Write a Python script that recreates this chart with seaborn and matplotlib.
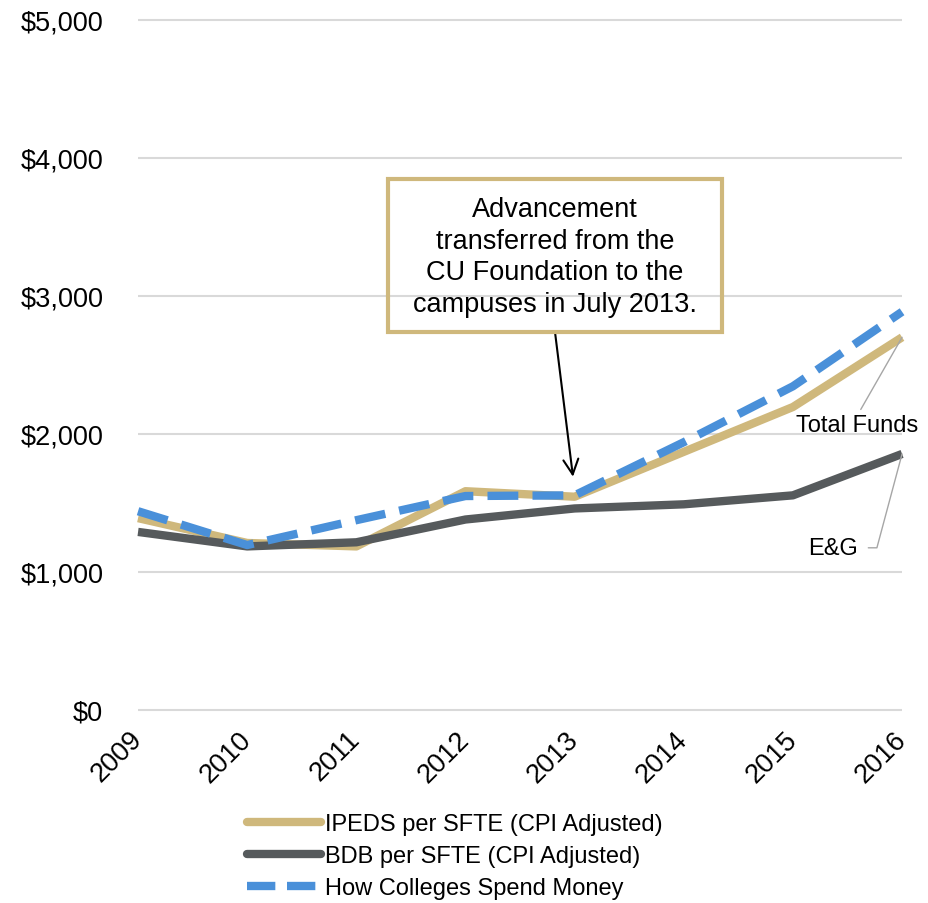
import numpy as np
import pandas as pd
import matplotlib
matplotlib.use("Agg")
import matplotlib.pyplot as plt
from matplotlib.patches import Rectangle
import seaborn as sns

years = [2009, 2010, 2011, 2012, 2013, 2014, 2015, 2016]
ipeds = [1390, 1210, 1185, 1585, 1545, 1870, 2195, 2700]
bdb = [1290, 1185, 1215, 1380, 1460, 1490, 1555, 1855]
hcsm = [1440, 1195, 1375, 1550, 1555, 1940, 2345, 2885]

series_names = ["IPEDS per SFTE (CPI Adjusted)", "BDB per SFTE (CPI Adjusted)",
                "How Colleges Spend Money"]
colors = ["#CFB87C", "#565A5C", "#4A90D9"]

df = pd.DataFrame({
    "year": years * 3,
    "value": ipeds + bdb + hcsm,
    "series": np.repeat(series_names, len(years)),
})

sns.set_theme(style="white")
plt.rcParams["font.family"] = ["Liberation Sans", "DejaVu Sans"]
plt.rcParams["text.color"] = "black"
plt.rcParams["xtick.color"] = "black"
plt.rcParams["ytick.color"] = "black"

fig = plt.figure(figsize=(9.29, 9.04), dpi=100)
ax = fig.add_axes([0.1486, 0.2135, 0.8224, 0.7635])

for yv in range(0, 5001, 1000):
    ax.axhline(yv, color="#D9D9D9", lw=1.5, zorder=0)

sns.lineplot(data=df, x="year", y="value", hue="series", style="series",
             palette=dict(zip(series_names, colors)),
             dashes={series_names[0]: "", series_names[1]: "",
                     series_names[2]: (3.7, 1.7)},
             linewidth=6, ax=ax, legend=False, sort=False)
for ln in ax.get_lines():
    ln.set_solid_capstyle("butt")
    ln.set_dash_capstyle("butt")
    ln.set_clip_on(False)

ax.set_xlim(2009, 2016)
ax.set_ylim(0, 5000)
ax.set_yticks(range(0, 5001, 1000))
ax.set_yticklabels([f"${v:,}" for v in range(0, 5001, 1000)], fontsize=19.5)
ax.set_xticks(years)
ax.set_xticklabels([str(y) for y in years], fontsize=19.5, rotation=45,
                   ha="right", va="center", rotation_mode="anchor")
ax.tick_params(axis="x", pad=18, length=0)
ax.tick_params(axis="y", pad=25, length=0)
ax.set_xlabel("")
ax.set_ylabel("")
for s in ax.spines.values():
    s.set_visible(False)

# callout box with arrow
ax.add_patch(Rectangle((2011.29, 2739), 3.06, 1109, fill=False,
                       ec="#CFB87C", lw=3, zorder=5))
ax.text(2012.82, 3285, "Advancement\ntransferred from the\nCU Foundation to the\ncampuses in July 2013.",
        ha="center", va="center", fontsize=19.5, linespacing=1.27, zorder=6)
ax.annotate("", xy=(2012.985, 1690), xytext=(2012.82, 2739),
            arrowprops=dict(arrowstyle="->,head_length=0.9,head_width=0.45",
                            color="black", lw=1.5, shrinkA=0, shrinkB=0))

ax.annotate("Total Funds", xy=(2016, 2700), xytext=(2016.147, 2065),
            ha="right", va="center", fontsize=17,
            arrowprops=dict(arrowstyle="-", color="#A6A6A6", lw=1,
                            shrinkA=1, shrinkB=0, relpos=(0.51, 1.0)))
ax.annotate("E&G", xy=(2016, 1855), xytext=(2015.597, 1175),
            ha="right", va="center", fontsize=17,
            arrowprops=dict(arrowstyle="-", color="#A6A6A6", lw=1,
                            shrinkA=5, shrinkB=0, relpos=(1.0, 0.5),
                            connectionstyle="angle,angleA=0,angleB=75,rad=0"))

handles = [plt.Line2D([], [], color=colors[0], lw=6, solid_capstyle="round"),
           plt.Line2D([], [], color=colors[1], lw=6, solid_capstyle="round"),
           plt.Line2D([], [], color=colors[2], lw=6, dashes=(3.4, 1.4))]
fig.legend(handles, series_names, loc="center", bbox_to_anchor=(0.49, 0.052),
           frameon=False, fontsize=17, handlelength=3.1, handletextpad=0.2,
           labelspacing=0.42)

fig.savefig("out.png", dpi=100)
